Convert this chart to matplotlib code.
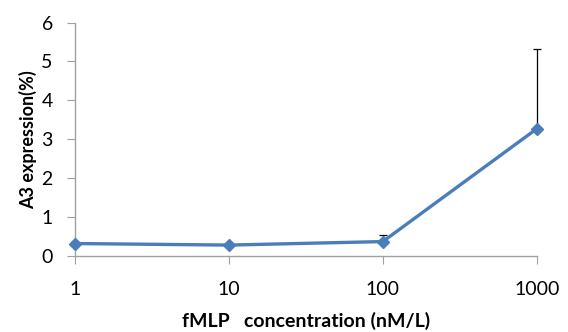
import matplotlib
matplotlib.use("Agg")
import matplotlib.pyplot as plt

# data
concentrations = ["1", "10", "100", "1000"]
expression = [0.32, 0.28, 0.37, 3.27]
err_up = [0.05, 0.05, 0.17, 2.05]

plt.rcParams["font.family"] = ["Lato", "DejaVu Sans"]

fig = plt.figure(figsize=(5.68, 3.32), dpi=100)
ax = fig.add_axes([0.132, 0.229, 0.813, 0.703])

x = list(range(len(concentrations)))
eb = ax.errorbar(x, expression, yerr=[[0] * len(err_up), err_up], fmt="none",
                 ecolor="black", elinewidth=0.9, capsize=3, capthick=0.9, zorder=2)
for art in eb.lines[1] + eb.lines[2]:
    art.set_clip_on(False)
ax.plot(x, expression, color="#4A7EBB", lw=2.4, marker="D", ms=6,
        markerfacecolor="#4A7EBB", markeredgecolor="#4A7EBB", zorder=3, clip_on=False)

ax.set_xlim(0, 3)
ax.set_ylim(0, 6)
ax.set_xticks(x)
ax.set_xticklabels(concentrations)
ax.set_yticks(range(7))

for side in ["top", "right"]:
    ax.spines[side].set_visible(False)
for side in ["left", "bottom"]:
    ax.spines[side].set_color("#A0A0A0")
    ax.spines[side].set_linewidth(1)
ax.tick_params(axis="both", colors="#A0A0A0", labelcolor="black", labelsize=14, length=6)
ax.tick_params(axis="x", pad=12)
ax.tick_params(axis="y", pad=10)

ax.set_ylabel("A3 expression(%)", fontsize=13, fontweight="bold", labelpad=3)
ax.set_xlabel("fMLP   concentration (nM/L)", fontsize=14, fontweight="bold", labelpad=10)

fig.savefig("out.png", dpi=100)
